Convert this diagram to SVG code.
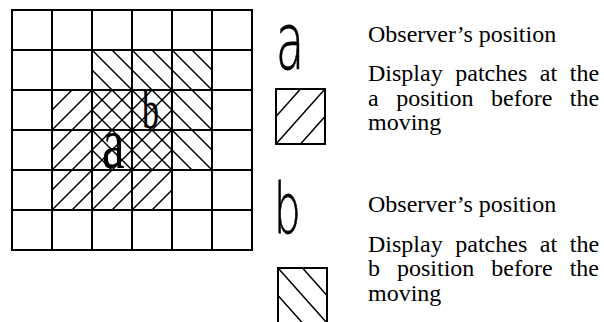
<svg xmlns="http://www.w3.org/2000/svg" width="604" height="322" viewBox="0 0 604 322">
<style>
.grid{stroke:#000;stroke-width:2;fill:none;stroke-linecap:square}
.h{stroke:#000;stroke-width:1.5;fill:none}
.box{stroke:#000;stroke-width:2;fill:none}
.t{font-family:"Liberation Serif","Times New Roman",serif;font-size:24px;fill:#000}
.ser{font-family:"Liberation Serif","Times New Roman",serif;fill:#000}
.san{font-family:"DejaVu Sans","Liberation Sans",sans-serif;font-weight:200;fill:#000;stroke:#000;stroke-width:0.5}
</style>
<rect width="604" height="322" fill="#fff"/>
<g id="hatch-b" class="h">
<path d="M92,150L112,170M92,130L132,170M92,110L152,170M92,90L172,170M92,70L192,170M92,50L212,170M112,50L212,150M132,50L212,130M152,50L212,110M172,50L212,90M192,50L212,70"/>
</g>
<g id="hatch-a" class="h">
<path d="M52,110L72,90M52,130L92,90M52,150L112,90M52,170L132,90M52,190L152,90M52,210L172,90M72,210L172,110M92,210L172,130M112,210L172,150M132,210L172,170M152,210L172,190"/>
</g>
<g id="grid" class="grid">
<rect x="12" y="10" width="240" height="240"/>
<path d="M52,10V250M92,10V250M132,10V250M172,10V250M212,10V250M12,50H252M12,90H252M12,130H252M12,170H252M12,210H252"/>
</g>
<g id="grid-labels">
<text class="ser" font-size="34" transform="translate(142,128) scale(1,1.6)">b</text>
<text class="ser" font-size="51" transform="translate(102,168) scale(1,1.45)">a</text>
</g>
<g id="legend-a">
<text class="san" font-size="46" transform="translate(276,69) scale(1,1.7)">a</text>
<text class="t" x="368" y="42">Observer’s position</text>
<rect class="box" x="276" y="89" width="49" height="55"/>
<path class="h" d="M276,116.5L300.5,89M276,144L325,89M300.5,144L325,116.5"/>
<text class="t" x="368" y="81" word-spacing="6.6">Display patches at the</text>
<text class="t" x="368" y="105.5" word-spacing="11.5">a position before the</text>
<text class="t" x="368" y="130">moving</text>
</g>
<g id="legend-b">
<text class="san" font-size="42" transform="translate(274,233) scale(1,1.66)">b</text>
<text class="t" x="368" y="212">Observer’s position</text>
<rect class="box" x="278" y="268" width="49" height="55"/>
<path class="h" d="M278,268L327,323M302.5,268L327,295.5M278,295.5L302.5,323"/>
<text class="t" x="368" y="251.5" word-spacing="6.6">Display patches at the</text>
<text class="t" x="368" y="276" word-spacing="11">b position before the</text>
<text class="t" x="368" y="300.5">moving</text>
</g>
</svg>
